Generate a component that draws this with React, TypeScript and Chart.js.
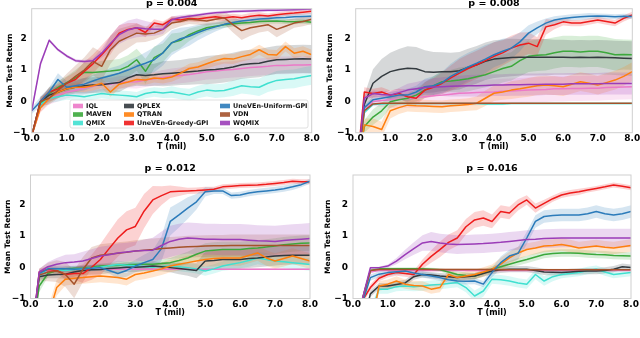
import React, { useEffect, useRef } from "react";
import { Chart, registerables } from "chart.js";

Chart.register(...registerables);

const FONT = "'DejaVu Sans', 'Liberation Sans', sans-serif";

// x positions (T in millions of steps)
const T_MIL = [
  0, 0.25, 0.5, 0.75, 1, 1.25, 1.5, 1.75, 2, 2.25, 2.5, 2.75, 3, 3.25, 3.5, 3.75, 4,
  4.25, 4.5, 4.75, 5, 5.25, 5.5, 5.75, 6, 6.25, 6.5, 6.75, 7, 7.25, 7.5, 7.75, 8,
];
const X_TICKS = [0, 1, 2, 3, 4, 5, 6, 7, 8];
const Y_TICKS = [-1, 0, 1, 2];
const PANEL_TITLES = ["p = 0.004", "p = 0.008", "p = 0.012", "p = 0.016"];
const SERIES = [
  "IQL", "MAVEN", "QMIX", "QPLEX", "QTRAN",
  "UneVEn-Greedy-GPI", "UneVEn-Uniform-GPI", "VDN", "WQMIX",
];
const COLORS = [
  "#ec79c8", "#3ca83c", "#40e0d0", "#333a3f", "#ff7f0e",
  "#ee1c1c", "#2b7bba", "#a5522b", "#9b3db8",
];

// ---------- p = 0.004 ----------
const P1_IQL = [-1.1, -0.2, 0.1, 0.2, 0.3, 0.35, 0.42, 0.48, 0.55, 0.55, 0.6, 0.62, 0.63, 0.68, 0.72, 0.76, 0.8, 0.83, 0.86, 0.9, 0.95, 0.97, 1.0, 1.02, 1.05, 1.08, 1.1, 1.12, 1.15, 1.15, 1.16, 1.16, 1.17];
const P1_MAVEN = [-1.1, -0.1, 0.25, 0.45, 0.6, 0.75, 0.93, 0.92, 0.95, 0.97, 1.0, 1.12, 1.33, 0.96, 1.4, 1.55, 1.87, 1.95, 2.13, 2.25, 2.35, 2.4, 2.45, 2.48, 2.5, 2.52, 2.55, 2.56, 2.57, 2.55, 2.54, 2.56, 2.53];
const P1_QMIX = [-1.1, -0.1, 0.1, 0.15, 0.2, 0.18, 0.15, 0.2, 0.25, 0.22, 0.2, 0.18, 0.15, 0.25, 0.3, 0.27, 0.3, 0.25, 0.2, 0.3, 0.36, 0.33, 0.35, 0.42, 0.5, 0.47, 0.45, 0.58, 0.67, 0.7, 0.72, 0.78, 0.83];
const P1_QPLEX = [-1.1, 0.0, 0.2, 0.3, 0.4, 0.45, 0.5, 0.52, 0.53, 0.57, 0.6, 0.75, 0.85, 0.83, 0.85, 0.88, 0.9, 0.92, 0.95, 0.97, 1.0, 1.02, 1.05, 1.1, 1.17, 1.2, 1.22, 1.28, 1.33, 1.34, 1.35, 1.36, 1.35];
const P1_QTRAN = [-1.1, -0.2, 0.1, 0.3, 0.4, 0.45, 0.45, 0.5, 0.58, 0.3, 0.55, 0.62, 0.7, 0.68, 0.75, 0.72, 0.78, 0.9, 1.05, 1.1, 1.2, 1.3, 1.37, 1.35, 1.43, 1.5, 1.65, 1.5, 1.48, 1.75, 1.54, 1.6, 1.49];
const P1_GREEDY = [-1.1, 0.0, 0.3, 0.4, 0.58, 0.7, 0.96, 1.2, 1.49, 1.8, 2.18, 2.3, 2.35, 2.2, 2.5, 2.45, 2.62, 2.6, 2.65, 2.63, 2.67, 2.7, 2.66, 2.7, 2.67, 2.72, 2.75, 2.73, 2.77, 2.8, 2.82, 2.85, 2.88];
const P1_UNIFORM = [-0.3, 0.0, 0.3, 0.7, 0.45, 0.5, 0.55, 0.65, 0.75, 0.82, 0.9, 1.0, 1.12, 1.22, 1.33, 1.55, 1.87, 2.0, 2.08, 2.2, 2.3, 2.38, 2.46, 2.52, 2.57, 2.6, 2.63, 2.65, 2.67, 2.68, 2.7, 2.71, 2.72];
const P1_VDN = [-1.1, 0.0, 0.1, 0.35, 0.58, 0.8, 1.0, 1.28, 1.12, 1.65, 1.92, 2.05, 2.18, 2.15, 2.18, 2.3, 2.5, 2.55, 2.62, 2.6, 2.57, 2.62, 2.67, 2.45, 2.26, 2.35, 2.4, 2.45, 2.3, 2.4, 2.5, 2.55, 2.62];
const P1_WQMIX = [-0.3, 1.2, 1.95, 1.65, 1.45, 1.3, 1.27, 1.3, 1.54, 1.85, 2.13, 2.28, 2.35, 2.32, 2.3, 2.3, 2.61, 2.68, 2.72, 2.76, 2.8, 2.83, 2.85, 2.87, 2.88, 2.89, 2.9, 2.91, 2.91, 2.92, 2.93, 2.94, 2.95];

const P1_IQL_SD = [0.05, 0.15, 0.2, 0.2, 0.2, 0.2, 0.2, 0.2, 0.2, 0.2, 0.2, 0.2, 0.22, 0.22, 0.22, 0.24, 0.25, 0.25, 0.25, 0.25, 0.25, 0.26, 0.26, 0.26, 0.27, 0.27, 0.27, 0.27, 0.28, 0.28, 0.28, 0.28, 0.28];
const P1_MAVEN_SD = [0.05, 0.15, 0.2, 0.2, 0.2, 0.25, 0.3, 0.3, 0.35, 0.35, 0.35, 0.35, 0.35, 0.4, 0.35, 0.3, 0.3, 0.25, 0.2, 0.15, 0.12, 0.1, 0.1, 0.1, 0.08, 0.08, 0.08, 0.08, 0.08, 0.08, 0.08, 0.08, 0.08];
const P1_QMIX_SD = [0.05, 0.15, 0.15, 0.15, 0.15, 0.15, 0.15, 0.15, 0.15, 0.15, 0.15, 0.15, 0.15, 0.15, 0.15, 0.16, 0.18, 0.18, 0.2, 0.2, 0.2, 0.22, 0.22, 0.25, 0.25, 0.25, 0.28, 0.28, 0.3, 0.3, 0.3, 0.3, 0.3];
const P1_QPLEX_SD = [0.05, 0.15, 0.2, 0.2, 0.2, 0.2, 0.25, 0.25, 0.25, 0.3, 0.3, 0.3, 0.35, 0.35, 0.35, 0.4, 0.4, 0.4, 0.42, 0.42, 0.45, 0.45, 0.45, 0.45, 0.45, 0.45, 0.45, 0.45, 0.45, 0.45, 0.45, 0.45, 0.45];
const P1_QTRAN_SD = [0.05, 0.15, 0.15, 0.15, 0.15, 0.15, 0.15, 0.15, 0.15, 0.15, 0.15, 0.15, 0.15, 0.15, 0.15, 0.15, 0.15, 0.15, 0.15, 0.15, 0.15, 0.16, 0.16, 0.16, 0.16, 0.16, 0.16, 0.16, 0.16, 0.16, 0.16, 0.16, 0.16];
const P1_GREEDY_SD = [0.05, 0.1, 0.15, 0.15, 0.2, 0.25, 0.3, 0.3, 0.3, 0.3, 0.25, 0.2, 0.15, 0.15, 0.12, 0.1, 0.1, 0.1, 0.1, 0.1, 0.1, 0.1, 0.1, 0.1, 0.1, 0.1, 0.1, 0.08, 0.08, 0.08, 0.08, 0.08, 0.08];
const P1_UNIFORM_SD = [0.1, 0.15, 0.15, 0.2, 0.2, 0.2, 0.2, 0.2, 0.2, 0.25, 0.25, 0.3, 0.3, 0.35, 0.4, 0.4, 0.4, 0.35, 0.3, 0.25, 0.2, 0.15, 0.12, 0.1, 0.1, 0.1, 0.1, 0.1, 0.1, 0.1, 0.1, 0.1, 0.1];
const P1_VDN_SD = [0.05, 0.15, 0.2, 0.25, 0.3, 0.35, 0.4, 0.45, 0.45, 0.45, 0.4, 0.35, 0.3, 0.25, 0.2, 0.2, 0.2, 0.15, 0.15, 0.15, 0.15, 0.15, 0.2, 0.25, 0.3, 0.25, 0.2, 0.2, 0.25, 0.2, 0.15, 0.15, 0.15];
const P1_WQMIX_SD = [0.1, 0.1, 0.05, 0.05, 0.05, 0.05, 0.05, 0.08, 0.15, 0.25, 0.3, 0.3, 0.3, 0.25, 0.2, 0.15, 0.1, 0.08, 0.06, 0.05, 0.05, 0.05, 0.05, 0.05, 0.05, 0.05, 0.05, 0.05, 0.05, 0.05, 0.05, 0.05, 0.05];

// ---------- p = 0.008 ----------
const P2_IQL = [-2.5, -0.3, 0.0, 0.03, 0.05, 0.08, 0.1, 0.12, 0.15, 0.18, 0.2, 0.23, 0.26, 0.27, 0.28, 0.29, 0.3, 0.32, 0.33, 0.35, 0.36, 0.37, 0.38, 0.4, 0.4, 0.41, 0.41, 0.42, 0.42, 0.44, 0.45, 0.46, 0.47];
const P2_MAVEN = [-2.5, -0.8, -0.5, -0.3, -0.01, 0.05, 0.1, 0.2, 0.36, 0.5, 0.63, 0.65, 0.68, 0.72, 0.79, 0.85, 0.95, 1.05, 1.12, 1.3, 1.44, 1.47, 1.49, 1.55, 1.6, 1.6, 1.58, 1.6, 1.6, 1.55, 1.49, 1.5, 1.49];
const P2_QMIX = [-2.5, -0.35, -0.1, -0.08, -0.07, -0.07, -0.07, -0.07, -0.07, -0.07, -0.07, -0.07, -0.07, -0.07, -0.07, -0.08, -0.08, -0.08, -0.07, -0.07, -0.07, -0.07, -0.07, -0.07, -0.07, -0.07, -0.07, -0.07, -0.07, -0.07, -0.07, -0.07, -0.07];
const P2_QPLEX = [-2.5, -0.1, 0.58, 0.8, 0.95, 1.02, 1.06, 1.04, 0.95, 0.93, 0.95, 0.95, 0.98, 1.08, 1.17, 1.28, 1.35, 1.38, 1.4, 1.41, 1.41, 1.41, 1.41, 1.41, 1.41, 1.4, 1.41, 1.4, 1.41, 1.4, 1.39, 1.38, 1.37];
const P2_QTRAN = [-2.5, -0.75, -0.8, -0.9, -0.3, -0.2, -0.12, -0.14, -0.15, -0.16, -0.17, -0.14, -0.12, -0.1, -0.06, 0.1, 0.26, 0.3, 0.36, 0.4, 0.45, 0.5, 0.52, 0.5, 0.47, 0.55, 0.63, 0.58, 0.52, 0.6, 0.68, 0.8, 0.95];
const P2_GREEDY = [-2.5, 0.3, 0.25, 0.3, 0.2, 0.25, 0.15, 0.1, 0.36, 0.45, 0.58, 0.75, 0.9, 1.05, 1.17, 1.3, 1.44, 1.55, 1.7, 1.8, 1.86, 1.75, 2.38, 2.45, 2.54, 2.5, 2.5, 2.55, 2.6, 2.55, 2.5, 2.65, 2.76];
const P2_UNIFORM = [-2.5, -0.2, 0.05, 0.1, 0.15, 0.2, 0.2, 0.3, 0.47, 0.5, 0.6, 0.8, 0.95, 1.1, 1.22, 1.35, 1.49, 1.6, 1.7, 1.9, 2.18, 2.35, 2.5, 2.6, 2.65, 2.68, 2.7, 2.72, 2.73, 2.72, 2.7, 2.72, 2.71];
const P2_VDN = [-2.5, -0.3, -0.08, -0.06, -0.06, -0.06, -0.06, -0.06, -0.06, -0.06, -0.06, -0.06, -0.06, -0.06, -0.06, -0.06, -0.06, -0.06, -0.06, -0.06, -0.06, -0.06, -0.06, -0.06, -0.06, -0.06, -0.06, -0.06, -0.06, -0.06, -0.06, -0.06, -0.06];
const P2_WQMIX = [-2.5, 0.1, 0.25, 0.22, 0.2, 0.28, 0.36, 0.4, 0.44, 0.46, 0.47, 0.48, 0.49, 0.5, 0.5, 0.51, 0.52, 0.52, 0.53, 0.53, 0.54, 0.54, 0.55, 0.55, 0.55, 0.56, 0.56, 0.56, 0.56, 0.57, 0.57, 0.57, 0.57];

const P2_IQL_SD = [0.05, 0.1, 0.15, 0.2, 0.25, 0.3, 0.3, 0.32, 0.34, 0.36, 0.38, 0.4, 0.4, 0.4, 0.4, 0.4, 0.4, 0.4, 0.4, 0.4, 0.4, 0.4, 0.4, 0.4, 0.4, 0.4, 0.4, 0.4, 0.4, 0.4, 0.4, 0.4, 0.4];
const P2_MAVEN_SD = [0.05, 0.2, 0.25, 0.25, 0.2, 0.15, 0.15, 0.2, 0.25, 0.3, 0.35, 0.35, 0.4, 0.4, 0.4, 0.4, 0.45, 0.45, 0.45, 0.5, 0.5, 0.5, 0.5, 0.5, 0.5, 0.5, 0.5, 0.5, 0.5, 0.5, 0.5, 0.48, 0.48];
const P2_QMIX_SD = [0.05, 0.05, 0.03, 0.03, 0.03, 0.03, 0.03, 0.03, 0.03, 0.03, 0.03, 0.03, 0.03, 0.03, 0.03, 0.04, 0.04, 0.04, 0.03, 0.03, 0.03, 0.03, 0.03, 0.03, 0.03, 0.03, 0.03, 0.03, 0.03, 0.03, 0.03, 0.03, 0.03];
const P2_QPLEX_SD = [0.1, 0.3, 0.45, 0.55, 0.6, 0.65, 0.7, 0.7, 0.68, 0.65, 0.62, 0.6, 0.6, 0.6, 0.6, 0.6, 0.6, 0.6, 0.6, 0.58, 0.58, 0.58, 0.58, 0.56, 0.56, 0.55, 0.55, 0.55, 0.55, 0.55, 0.55, 0.55, 0.55];
const P2_QTRAN_SD = [0.05, 0.2, 0.25, 0.25, 0.25, 0.2, 0.2, 0.2, 0.2, 0.2, 0.2, 0.2, 0.2, 0.2, 0.22, 0.25, 0.25, 0.25, 0.28, 0.28, 0.3, 0.3, 0.3, 0.3, 0.3, 0.3, 0.3, 0.3, 0.3, 0.3, 0.3, 0.3, 0.3];
const P2_GREEDY_SD = [0.1, 0.15, 0.15, 0.15, 0.15, 0.15, 0.2, 0.2, 0.25, 0.3, 0.35, 0.4, 0.45, 0.45, 0.45, 0.45, 0.45, 0.4, 0.4, 0.4, 0.35, 0.3, 0.25, 0.15, 0.12, 0.1, 0.1, 0.1, 0.1, 0.1, 0.1, 0.1, 0.1];
const P2_UNIFORM_SD = [0.1, 0.1, 0.1, 0.1, 0.15, 0.15, 0.2, 0.2, 0.25, 0.3, 0.35, 0.4, 0.45, 0.45, 0.45, 0.45, 0.4, 0.4, 0.35, 0.3, 0.25, 0.2, 0.15, 0.12, 0.1, 0.1, 0.1, 0.1, 0.08, 0.08, 0.08, 0.08, 0.08];
const P2_VDN_SD = [0.02, 0.02, 0.02, 0.02, 0.02, 0.02, 0.02, 0.02, 0.02, 0.02, 0.02, 0.02, 0.02, 0.02, 0.02, 0.02, 0.02, 0.02, 0.02, 0.02, 0.02, 0.02, 0.02, 0.02, 0.02, 0.02, 0.02, 0.02, 0.02, 0.02, 0.02, 0.02, 0.02];
const P2_WQMIX_SD = [0.05, 0.1, 0.1, 0.1, 0.12, 0.15, 0.2, 0.22, 0.25, 0.28, 0.3, 0.32, 0.33, 0.34, 0.35, 0.35, 0.35, 0.35, 0.35, 0.35, 0.35, 0.35, 0.35, 0.35, 0.35, 0.35, 0.35, 0.35, 0.35, 0.35, 0.35, 0.35, 0.35];

// ---------- p = 0.012 ----------
const P3_IQL = [-2.5, -0.3, -0.1, -0.07, -0.06, -0.06, -0.06, -0.06, -0.06, -0.06, -0.06, -0.06, -0.06, -0.06, -0.06, -0.06, -0.06, -0.06, -0.06, -0.06, -0.06, -0.06, -0.06, -0.06, -0.06, -0.06, -0.06, -0.06, -0.06, -0.06, -0.06, -0.06, -0.06];
const P3_MAVEN = [-2.5, -0.6, -0.2, -0.1, -0.05, -0.03, -0.02, 0.0, 0.04, 0.05, 0.06, 0.08, 0.09, 0.1, 0.1, 0.12, 0.15, 0.22, 0.3, 0.42, 0.52, 0.55, 0.57, 0.57, 0.57, 0.6, 0.62, 0.65, 0.68, 0.72, 0.75, 0.77, 0.78];
const P3_QMIX = [-2.5, -0.3, -0.05, -0.08, -0.1, -0.07, -0.05, -0.02, 0.0, 0.05, 0.09, 0.07, 0.05, 0.02, 0.0, 0.03, 0.05, 0.02, -0.01, -0.05, -0.12, -0.05, 0.04, 0.1, 0.15, 0.22, 0.3, 0.25, 0.2, 0.18, 0.15, 0.12, 0.09];
const P3_QPLEX = [-2.5, -0.3, -0.25, -0.23, -0.22, -0.15, -0.1, -0.08, -0.07, -0.04, -0.02, 0.0, 0.0, 0.02, 0.04, 0.02, -0.01, -0.04, -0.07, -0.1, 0.2, 0.22, 0.25, 0.25, 0.25, 0.28, 0.3, 0.33, 0.36, 0.38, 0.39, 0.39, 0.39];
const P3_QTRAN = [-3.5, -3.0, -1.6, -0.65, -0.38, -0.35, -0.33, -0.3, -0.28, -0.3, -0.33, -0.38, -0.23, -0.18, -0.12, -0.05, 0.04, 0.1, 0.15, 0.2, 0.25, 0.28, 0.3, 0.3, 0.3, 0.38, 0.46, 0.3, 0.2, 0.28, 0.36, 0.28, 0.2];
const P3_GREEDY = [-2.5, -0.15, -0.07, -0.1, -0.23, -0.2, -0.2, 0.0, 0.25, 0.6, 0.94, 1.2, 1.31, 1.8, 2.16, 2.3, 2.42, 2.44, 2.45, 2.46, 2.48, 2.5, 2.58, 2.6, 2.62, 2.63, 2.64, 2.66, 2.69, 2.72, 2.76, 2.74, 2.74];
const P3_UNIFORM = [-2.5, -0.2, -0.05, -0.05, -0.05, -0.06, -0.05, -0.03, -0.01, -0.1, -0.2, -0.1, 0.04, 0.15, 0.25, 0.6, 1.47, 1.68, 1.9, 2.1, 2.42, 2.45, 2.45, 2.3, 2.32, 2.38, 2.42, 2.45, 2.48, 2.52, 2.58, 2.65, 2.76];
const P3_VDN = [-2.5, -0.25, -0.15, -0.12, -0.23, -0.54, -0.07, 0.3, 0.39, 0.42, 0.45, 0.48, 0.52, 0.55, 0.57, 0.6, 0.62, 0.64, 0.66, 0.67, 0.68, 0.69, 0.69, 0.7, 0.7, 0.7, 0.7, 0.7, 0.7, 0.7, 0.7, 0.7, 0.7];
const P3_WQMIX = [-2.5, -0.15, 0.02, 0.1, 0.15, 0.17, 0.2, 0.28, 0.36, 0.4, 0.46, 0.49, 0.52, 0.54, 0.55, 0.7, 0.83, 0.9, 0.94, 0.92, 0.9, 0.9, 0.89, 0.89, 0.89, 0.87, 0.85, 0.84, 0.83, 0.86, 0.88, 0.9, 0.92];

const P3_IQL_SD = [0.05, 0.05, 0.03, 0.03, 0.03, 0.03, 0.03, 0.03, 0.03, 0.03, 0.03, 0.03, 0.03, 0.03, 0.03, 0.03, 0.03, 0.03, 0.03, 0.03, 0.03, 0.03, 0.03, 0.03, 0.03, 0.03, 0.03, 0.03, 0.03, 0.03, 0.03, 0.03, 0.03];
const P3_MAVEN_SD = [0.05, 0.2, 0.1, 0.08, 0.08, 0.08, 0.08, 0.08, 0.08, 0.08, 0.08, 0.1, 0.1, 0.1, 0.1, 0.12, 0.15, 0.18, 0.2, 0.22, 0.25, 0.25, 0.25, 0.25, 0.25, 0.25, 0.25, 0.25, 0.25, 0.25, 0.25, 0.25, 0.25];
const P3_QMIX_SD = [0.05, 0.1, 0.1, 0.1, 0.1, 0.1, 0.1, 0.1, 0.1, 0.1, 0.12, 0.12, 0.12, 0.12, 0.12, 0.12, 0.12, 0.15, 0.15, 0.15, 0.15, 0.15, 0.15, 0.18, 0.18, 0.2, 0.2, 0.2, 0.2, 0.2, 0.2, 0.2, 0.2];
const P3_QPLEX_SD = [0.05, 0.1, 0.1, 0.12, 0.15, 0.15, 0.15, 0.15, 0.15, 0.15, 0.15, 0.15, 0.15, 0.15, 0.15, 0.15, 0.15, 0.18, 0.2, 0.25, 0.3, 0.3, 0.3, 0.3, 0.3, 0.3, 0.3, 0.3, 0.3, 0.3, 0.3, 0.3, 0.3];
const P3_QTRAN_SD = [0.1, 0.2, 0.3, 0.25, 0.2, 0.2, 0.2, 0.2, 0.2, 0.2, 0.2, 0.2, 0.2, 0.2, 0.2, 0.2, 0.2, 0.2, 0.22, 0.22, 0.22, 0.25, 0.25, 0.25, 0.25, 0.25, 0.25, 0.25, 0.25, 0.25, 0.25, 0.25, 0.25];
const P3_GREEDY_SD = [0.1, 0.1, 0.1, 0.1, 0.15, 0.2, 0.3, 0.4, 0.5, 0.55, 0.6, 0.6, 0.6, 0.55, 0.45, 0.3, 0.2, 0.15, 0.1, 0.1, 0.1, 0.08, 0.08, 0.08, 0.08, 0.08, 0.08, 0.08, 0.08, 0.08, 0.08, 0.08, 0.08];
const P3_UNIFORM_SD = [0.1, 0.1, 0.1, 0.1, 0.1, 0.1, 0.1, 0.1, 0.1, 0.1, 0.15, 0.2, 0.2, 0.25, 0.3, 0.4, 0.45, 0.4, 0.35, 0.25, 0.15, 0.1, 0.1, 0.1, 0.1, 0.1, 0.1, 0.1, 0.1, 0.1, 0.1, 0.08, 0.08];
const P3_VDN_SD = [0.1, 0.2, 0.3, 0.35, 0.4, 0.45, 0.4, 0.35, 0.35, 0.35, 0.35, 0.35, 0.35, 0.35, 0.35, 0.35, 0.35, 0.35, 0.35, 0.35, 0.35, 0.35, 0.35, 0.35, 0.35, 0.35, 0.35, 0.35, 0.35, 0.35, 0.35, 0.35, 0.35];
const P3_WQMIX_SD = [0.05, 0.1, 0.15, 0.2, 0.25, 0.25, 0.3, 0.3, 0.3, 0.3, 0.3, 0.3, 0.3, 0.35, 0.4, 0.45, 0.5, 0.5, 0.5, 0.5, 0.5, 0.5, 0.5, 0.5, 0.5, 0.5, 0.5, 0.5, 0.5, 0.5, 0.5, 0.5, 0.5];

// ---------- p = 0.016 ----------
const P4_IQL = [-2.5, -1.2, -0.15, -0.1, -0.1, -0.1, -0.1, -0.1, -0.1, -0.1, -0.1, -0.1, -0.1, -0.1, -0.1, -0.1, -0.1, -0.1, -0.1, -0.1, -0.1, -0.1, -0.1, -0.1, -0.1, -0.1, -0.1, -0.1, -0.1, -0.1, -0.1, -0.1, -0.1];
const P4_MAVEN = [-2.5, -1.1, -0.1, -0.05, -0.05, -0.05, -0.05, -0.05, -0.05, -0.06, -0.08, -0.15, -0.23, -0.26, -0.28, -0.18, -0.06, 0.02, 0.1, 0.18, 0.25, 0.33, 0.41, 0.44, 0.46, 0.46, 0.45, 0.43, 0.41, 0.4, 0.38, 0.37, 0.36];
const P4_QMIX = [-3.0, -2.5, -1.5, -0.7, -0.7, -0.62, -0.6, -0.62, -0.6, -0.57, -0.55, -0.52, -0.49, -0.65, -0.92, -0.76, -0.38, -0.4, -0.44, -0.5, -0.54, -0.23, -0.44, -0.3, -0.23, -0.2, -0.17, -0.1, -0.06, -0.15, -0.23, -0.2, -0.17];
const P4_QPLEX = [-2.5, -2.0, -0.85, -0.6, -0.6, -0.55, -0.5, -0.3, -0.23, -0.25, -0.28, -0.3, -0.33, -0.3, -0.28, -0.2, -0.12, -0.08, -0.06, -0.06, -0.06, -0.1, -0.15, -0.16, -0.17, -0.15, -0.13, -0.12, -0.12, -0.1, -0.06, 0.02, -0.01];
const P4_QTRAN = [-3.5, -3.0, -2.0, -0.6, -0.54, -0.44, -0.54, -0.58, -0.6, -0.7, -0.65, -0.23, -0.33, -0.28, -0.23, -0.15, -0.06, 0.1, 0.3, 0.46, 0.57, 0.62, 0.68, 0.7, 0.73, 0.68, 0.62, 0.65, 0.68, 0.64, 0.62, 0.66, 0.7];
const P4_GREEDY = [-2.5, -1.1, -0.65, -0.35, -0.23, -0.17, -0.2, -0.23, 0.1, 0.35, 0.57, 0.8, 0.94, 1.3, 1.52, 1.58, 1.47, 1.79, 1.74, 2.0, 2.16, 1.9, 2.05, 2.2, 2.32, 2.38, 2.42, 2.48, 2.53, 2.58, 2.64, 2.6, 2.55];
const P4_UNIFORM = [-2.5, -1.2, -0.33, -0.22, -0.17, -0.14, -0.12, -0.18, -0.23, -0.28, -0.33, -0.4, -0.44, -0.45, -0.44, -0.54, -0.17, 0.15, 0.36, 0.45, 0.94, 1.47, 1.63, 1.66, 1.68, 1.68, 1.68, 1.72, 1.79, 1.72, 1.68, 1.72, 1.79];
const P4_VDN = [-2.5, -1.1, -0.1, -0.07, -0.07, -0.07, -0.07, -0.07, -0.07, -0.07, -0.07, -0.07, -0.07, -0.07, -0.07, -0.07, -0.07, -0.08, -0.08, -0.08, -0.08, -0.08, -0.08, -0.08, -0.08, -0.08, -0.08, -0.08, -0.08, -0.08, -0.08, -0.08, -0.08];
const P4_WQMIX = [-2.5, -1.1, -0.01, -0.01, 0.04, 0.2, 0.41, 0.6, 0.78, 0.83, 0.78, 0.75, 0.73, 0.74, 0.75, 0.76, 0.78, 0.8, 0.83, 0.86, 0.89, 0.9, 0.92, 0.93, 0.94, 0.94, 0.94, 0.94, 0.94, 0.94, 0.94, 0.94, 0.94];

const P4_IQL_SD = [0.05, 0.05, 0.03, 0.03, 0.03, 0.03, 0.03, 0.03, 0.03, 0.03, 0.03, 0.03, 0.03, 0.03, 0.03, 0.03, 0.03, 0.03, 0.03, 0.03, 0.03, 0.03, 0.03, 0.03, 0.03, 0.03, 0.03, 0.03, 0.03, 0.03, 0.03, 0.03, 0.03];
const P4_MAVEN_SD = [0.05, 0.1, 0.05, 0.05, 0.05, 0.05, 0.05, 0.05, 0.05, 0.05, 0.05, 0.08, 0.1, 0.1, 0.1, 0.1, 0.1, 0.1, 0.1, 0.12, 0.12, 0.12, 0.12, 0.12, 0.12, 0.12, 0.12, 0.12, 0.12, 0.12, 0.12, 0.12, 0.12];
const P4_QMIX_SD = [0.1, 0.15, 0.15, 0.15, 0.15, 0.15, 0.15, 0.15, 0.15, 0.15, 0.15, 0.15, 0.15, 0.15, 0.18, 0.18, 0.15, 0.15, 0.15, 0.15, 0.15, 0.15, 0.15, 0.15, 0.12, 0.12, 0.12, 0.12, 0.12, 0.12, 0.12, 0.12, 0.12];
const P4_QPLEX_SD = [0.1, 0.1, 0.1, 0.1, 0.1, 0.1, 0.1, 0.1, 0.1, 0.1, 0.1, 0.1, 0.1, 0.1, 0.1, 0.1, 0.1, 0.1, 0.1, 0.1, 0.1, 0.1, 0.1, 0.1, 0.1, 0.1, 0.1, 0.1, 0.1, 0.1, 0.1, 0.1, 0.1];
const P4_QTRAN_SD = [0.1, 0.15, 0.15, 0.15, 0.15, 0.15, 0.15, 0.15, 0.15, 0.15, 0.15, 0.15, 0.15, 0.15, 0.15, 0.15, 0.15, 0.2, 0.2, 0.2, 0.2, 0.2, 0.2, 0.2, 0.2, 0.2, 0.2, 0.2, 0.2, 0.2, 0.2, 0.2, 0.2];
const P4_GREEDY_SD = [0.1, 0.1, 0.1, 0.1, 0.1, 0.1, 0.1, 0.12, 0.15, 0.2, 0.25, 0.25, 0.25, 0.25, 0.25, 0.25, 0.22, 0.2, 0.2, 0.18, 0.15, 0.15, 0.12, 0.1, 0.1, 0.1, 0.1, 0.08, 0.08, 0.08, 0.08, 0.08, 0.08];
const P4_UNIFORM_SD = [0.1, 0.1, 0.1, 0.1, 0.1, 0.1, 0.1, 0.1, 0.1, 0.1, 0.1, 0.1, 0.1, 0.1, 0.1, 0.1, 0.15, 0.2, 0.2, 0.2, 0.2, 0.2, 0.2, 0.2, 0.2, 0.2, 0.2, 0.2, 0.2, 0.2, 0.2, 0.2, 0.2];
const P4_VDN_SD = [0.03, 0.03, 0.03, 0.03, 0.03, 0.03, 0.03, 0.03, 0.03, 0.03, 0.03, 0.03, 0.03, 0.03, 0.03, 0.03, 0.03, 0.03, 0.03, 0.03, 0.03, 0.03, 0.03, 0.03, 0.03, 0.03, 0.03, 0.03, 0.03, 0.03, 0.03, 0.03, 0.03];
const P4_WQMIX_SD = [0.05, 0.05, 0.03, 0.03, 0.05, 0.1, 0.15, 0.2, 0.25, 0.3, 0.3, 0.3, 0.3, 0.3, 0.3, 0.3, 0.3, 0.3, 0.3, 0.3, 0.3, 0.3, 0.3, 0.3, 0.3, 0.3, 0.3, 0.3, 0.3, 0.3, 0.3, 0.3, 0.3];

const PANEL_MEANS = [
  [P1_IQL, P1_MAVEN, P1_QMIX, P1_QPLEX, P1_QTRAN, P1_GREEDY, P1_UNIFORM, P1_VDN, P1_WQMIX],
  [P2_IQL, P2_MAVEN, P2_QMIX, P2_QPLEX, P2_QTRAN, P2_GREEDY, P2_UNIFORM, P2_VDN, P2_WQMIX],
  [P3_IQL, P3_MAVEN, P3_QMIX, P3_QPLEX, P3_QTRAN, P3_GREEDY, P3_UNIFORM, P3_VDN, P3_WQMIX],
  [P4_IQL, P4_MAVEN, P4_QMIX, P4_QPLEX, P4_QTRAN, P4_GREEDY, P4_UNIFORM, P4_VDN, P4_WQMIX],
];
const PANEL_SDS = [
  [P1_IQL_SD, P1_MAVEN_SD, P1_QMIX_SD, P1_QPLEX_SD, P1_QTRAN_SD, P1_GREEDY_SD, P1_UNIFORM_SD, P1_VDN_SD, P1_WQMIX_SD],
  [P2_IQL_SD, P2_MAVEN_SD, P2_QMIX_SD, P2_QPLEX_SD, P2_QTRAN_SD, P2_GREEDY_SD, P2_UNIFORM_SD, P2_VDN_SD, P2_WQMIX_SD],
  [P3_IQL_SD, P3_MAVEN_SD, P3_QMIX_SD, P3_QPLEX_SD, P3_QTRAN_SD, P3_GREEDY_SD, P3_UNIFORM_SD, P3_VDN_SD, P3_WQMIX_SD],
  [P4_IQL_SD, P4_MAVEN_SD, P4_QMIX_SD, P4_QPLEX_SD, P4_QTRAN_SD, P4_GREEDY_SD, P4_UNIFORM_SD, P4_VDN_SD, P4_WQMIX_SD],
];

// ---------- layout (page pixel geometry) ----------
const GEO = [
  { cx: 0, cy: 0, cw: 320, ch: 166, L: 31.7, R: 311.7, T: 8.7, B: 132.7, yTitleX: 10, xTitleY: 146.5, titleMid: 3.7 },
  { cx: 320, cy: 0, cw: 320, ch: 166, L: 355.7, R: 632.3, T: 8.7, B: 132.7, yTitleX: 330, xTitleY: 146.5, titleMid: 3.7 },
  { cx: 0, cy: 160, cw: 320, ch: 178, L: 30.5, R: 310, T: 175, B: 298.5, yTitleX: 8.5, xTitleY: 313, titleMid: 168.8 },
  { cx: 320, cy: 160, cw: 320, ch: 178, L: 353, R: 631, T: 175, B: 298.5, yTitleX: 328.5, xTitleY: 313, titleMid: 168.8 },
];

function rgba(hex: string, a: number) {
  const n = parseInt(hex.slice(1), 16);
  return `rgba(${(n >> 16) & 255},${(n >> 8) & 255},${n & 255},${a})`;
}

const framePlugin = {
  id: "frameBox",
  afterDatasetsDraw(chart: any) {
    const { ctx, chartArea: a } = chart;
    ctx.save();
    ctx.strokeStyle = "#cfcfcf";
    ctx.lineWidth = 1;
    ctx.strokeRect(a.left, a.top, a.right - a.left, a.bottom - a.top);
    ctx.restore();
  },
};

const legendPlugin = {
  id: "gridLegend",
  afterDraw(chart: any) {
    const { ctx, chartArea: a } = chart;
    const x0 = a.left + 38.3;
    const y0 = a.top + 91.3;
    const w = 238;
    const h = 28;
    ctx.save();
    ctx.beginPath();
    const r = 2;
    ctx.moveTo(x0 + r, y0);
    ctx.lineTo(x0 + w - r, y0);
    ctx.quadraticCurveTo(x0 + w, y0, x0 + w, y0 + r);
    ctx.lineTo(x0 + w, y0 + h - r);
    ctx.quadraticCurveTo(x0 + w, y0 + h, x0 + w - r, y0 + h);
    ctx.lineTo(x0 + r, y0 + h);
    ctx.quadraticCurveTo(x0, y0 + h, x0, y0 + h - r);
    ctx.lineTo(x0, y0 + r);
    ctx.quadraticCurveTo(x0, y0, x0 + r, y0);
    ctx.closePath();
    ctx.fillStyle = "rgba(255,255,255,0.82)";
    ctx.fill();
    ctx.strokeStyle = "#d8d8d8";
    ctx.lineWidth = 0.8;
    ctx.stroke();
    const colX = [3, 54, 150];
    const rowY = [6, 14.5, 23];
    ctx.font = `bold 6.4px ${FONT}`;
    ctx.textBaseline = "middle";
    ctx.textAlign = "left";
    SERIES.forEach((name, i) => {
      const col = Math.floor(i / 3);
      const row = i % 3;
      const sx = x0 + colX[col];
      const sy = y0 + rowY[row];
      ctx.fillStyle = rgba(COLORS[i], 0.9);
      ctx.fillRect(sx, sy - 2.3, 10, 4.6);
      ctx.fillStyle = "#111";
      ctx.fillText(name, sx + 13, sy + 0.3);
    });
    ctx.restore();
  },
};

function makeConfig(pi: number): any {
  const g = GEO[pi];
  const yTitleSize = 7.5;
  const xTitleSize = 8;
  const titleSize = 9.5;
  const yLh = yTitleSize * 1.2;
  const xLh = xTitleSize * 1.2;
  const tLh = titleSize * 0.7;
  const boxLeft = g.yTitleX - yLh / 2;
  const W = g.L - boxLeft;
  const H = g.xTitleY + xLh / 2 - g.B;
  const titleTop = g.titleMid - tLh / 2;

  const means = PANEL_MEANS[pi];
  const sds = PANEL_SDS[pi];
  const datasets: any[] = [];
  means.forEach((m, i) => {
    const sd = sds[i];
    datasets.push({
      label: SERIES[i] + " lower",
      data: T_MIL.map((t, k) => ({ x: t, y: m[k] - sd[k] })),
      borderWidth: 0,
      borderColor: "rgba(0,0,0,0)",
      pointRadius: 0,
      fill: false,
      order: 300 - i,
    });
    datasets.push({
      label: SERIES[i] + " upper",
      data: T_MIL.map((t, k) => ({ x: t, y: m[k] + sd[k] })),
      borderWidth: 0,
      borderColor: "rgba(0,0,0,0)",
      backgroundColor: rgba(COLORS[i], 0.2),
      pointRadius: 0,
      fill: "-1",
      order: 300 - i,
    });
  });
  means.forEach((m, i) => {
    datasets.push({
      label: SERIES[i],
      data: T_MIL.map((t, k) => ({ x: t, y: m[k] })),
      borderColor: COLORS[i],
      backgroundColor: COLORS[i],
      borderWidth: 1.5,
      borderJoinStyle: "round",
      pointRadius: 0,
      fill: false,
      tension: 0,
      order: 100 - i,
    });
  });

  const tickFont = { family: FONT, size: 9, weight: "bold" };

  return {
    type: "line",
    data: { datasets },
    options: {
      responsive: false,
      animation: false,
      events: [],
      layout: {
        padding: {
          left: boxLeft - g.cx,
          right: g.cx + g.cw - g.R,
          top: titleTop - g.cy,
          bottom: g.cy + g.ch - g.B - H,
        },
      },
      plugins: {
        legend: { display: false },
        tooltip: { enabled: false },
        title: {
          display: true,
          fullSize: false,
          text: PANEL_TITLES[pi],
          color: "#000",
          font: { family: FONT, size: titleSize, weight: "bold", lineHeight: 0.7 },
          padding: { top: 0, bottom: g.T - g.titleMid - tLh / 2 },
        },
      },
      scales: {
        x: {
          type: "linear",
          min: 0,
          max: 8,
          grid: { display: false, drawTicks: false },
          border: { display: false },
          ticks: {
            font: tickFont,
            color: "#000",
            padding: 1,
            maxRotation: 0,
            autoSkip: false,
            callback: (v: any) => Number(v).toFixed(1),
          },
          afterBuildTicks: (s: any) => {
            s.ticks = X_TICKS.map((v) => ({ value: v }));
          },
          afterFit: (s: any) => {
            s.height = H;
            s.paddingLeft = 0;
            s.paddingRight = 0;
          },
          title: {
            display: true,
            text: "T (mil)",
            color: "#000",
            font: { family: FONT, size: xTitleSize, weight: "bold", lineHeight: 1.2 },
            padding: 0,
          },
        },
        y: {
          type: "linear",
          min: -1,
          max: 2.96,
          grid: { display: false, drawTicks: false },
          border: { display: false },
          ticks: {
            font: tickFont,
            color: "#000",
            padding: 5,
            autoSkip: false,
            callback: (v: any) => (Number(v) < 0 ? "\u2212" + Math.abs(Number(v)) : String(v)),
          },
          afterBuildTicks: (s: any) => {
            s.ticks = Y_TICKS.map((v) => ({ value: v }));
          },
          afterFit: (s: any) => {
            s.width = W;
            s.paddingTop = 0;
            s.paddingBottom = 0;
          },
          title: {
            display: true,
            text: "Mean Test Return",
            color: "#000",
            font: { family: FONT, size: yTitleSize, weight: "bold", lineHeight: 1.2 },
            padding: 0,
          },
        },
      },
    },
    plugins: pi === 0 ? [framePlugin, legendPlugin] : [framePlugin],
  };
}

function Panel({ idx }: { idx: number }) {
  const ref = useRef<HTMLCanvasElement>(null);
  useEffect(() => {
    if (!ref.current) return;
    const chart = new Chart(ref.current, makeConfig(idx));
    return () => chart.destroy();
  }, [idx]);
  const g = GEO[idx];
  return (
    <canvas
      ref={ref}
      width={g.cw}
      height={g.ch}
      style={{ position: "absolute", left: g.cx, top: g.cy, width: g.cw, height: g.ch }}
    />
  );
}

export default function App() {
  return (
    <div
      style={{
        position: "absolute",
        left: 0,
        top: 0,
        width: 640,
        height: 338,
        background: "#ffffff",
        overflow: "hidden",
      }}
    >
      {[0, 1, 2, 3].map((i) => (
        <Panel key={i} idx={i} />
      ))}
    </div>
  );
}
